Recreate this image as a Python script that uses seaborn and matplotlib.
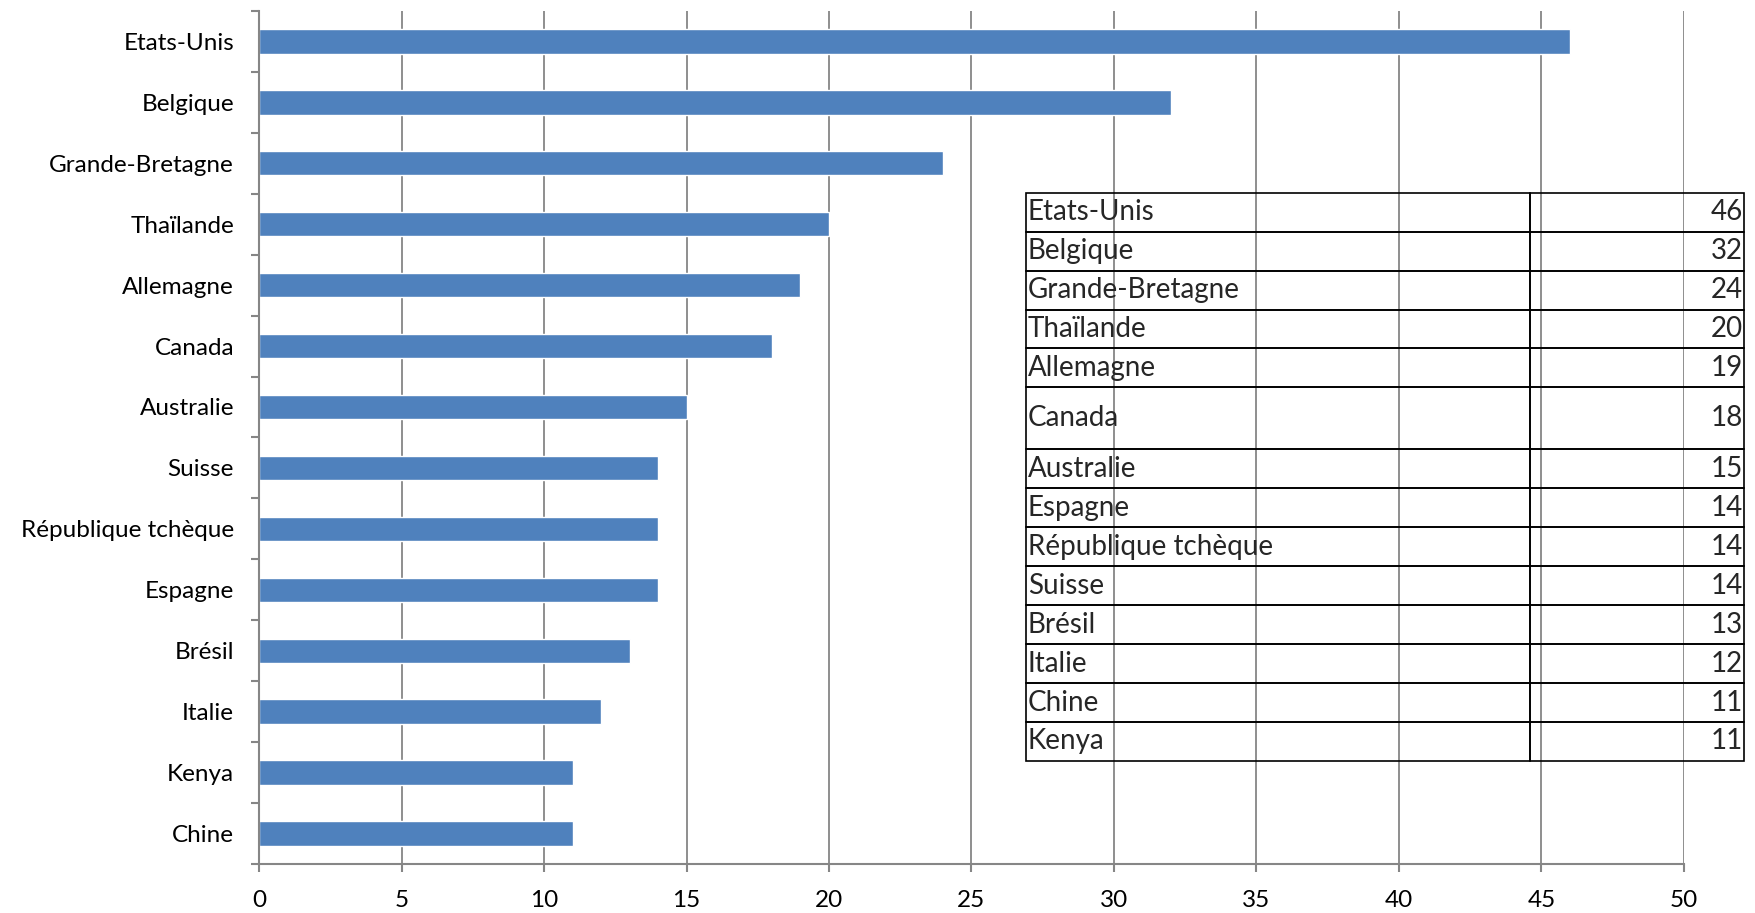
import numpy as np
import pandas as pd
import matplotlib
matplotlib.use("Agg")
import matplotlib.pyplot as plt
import seaborn as sns

# Chart order (top to bottom)
pays = ["Etats-Unis", "Belgique", "Grande-Bretagne", "Thaïlande", "Allemagne",
        "Canada", "Australie", "Suisse", "République tchèque", "Espagne",
        "Brésil", "Italie", "Kenya", "Chine"]
valeurs = [46, 32, 24, 20, 19, 18, 15, 14, 14, 14, 13, 12, 11, 11]

# Data table order
table_pays = ["Etats-Unis", "Belgique", "Grande-Bretagne", "Thaïlande", "Allemagne",
              "Canada", "Australie", "Espagne", "République tchèque", "Suisse",
              "Brésil", "Italie", "Chine", "Kenya"]
table_valeurs = [46, 32, 24, 20, 19, 18, 15, 14, 14, 14, 13, 12, 11, 11]

x_ticks = [0, 5, 10, 15, 20, 25, 30, 35, 40, 45, 50]

sns.set_theme(style="white")
plt.rcParams["font.family"] = ["Lato", "DejaVu Sans"]

BAR = "#4F81BD"
GRID = "#868686"

fig = plt.figure(figsize=(17.55, 9.13), dpi=100)
ax = fig.add_axes([0.1476, 0.0537, 0.8119, 0.9343])

df = pd.DataFrame({"pays": pays, "valeur": valeurs})
sns.barplot(data=df, x="valeur", y="pays", orient="h", color=BAR,
            saturation=1, width=0.4, ax=ax, order=pays)

ax.set_xlim(0, 50)
ax.set_ylim(len(pays) - 0.5, -0.5)
ax.set_xticks(x_ticks)
ax.set_xticklabels([str(t) for t in x_ticks])
ax.set_xlabel("")
ax.set_ylabel("")

ax.xaxis.grid(True, color=GRID, linewidth=1.3)
ax.yaxis.grid(False)
ax.set_axisbelow(True)

for side in ["top", "right"]:
    ax.spines[side].set_visible(False)
for side in ["left", "bottom"]:
    ax.spines[side].set_color(GRID)
    ax.spines[side].set_linewidth(1.5)

ax.set_yticks(np.arange(-0.5, len(pays), 1), minor=True)
ax.tick_params(axis="y", which="major", length=0, pad=18, labelsize=17.5, labelcolor="black")
ax.tick_params(axis="y", which="minor", left=True, length=6, width=1.5, color=GRID)
ax.tick_params(axis="x", which="major", bottom=True, length=6, width=1.5, color=GRID,
               pad=13, labelsize=17.5, labelcolor="black")

# Data table overlay
cell_text = [[p, str(v)] for p, v in zip(table_pays, table_valeurs)]
tbl = ax.table(cellText=cell_text, colWidths=[0.703, 0.297],
               bbox=[0.538, 0.1208, 0.504, 0.6662], zorder=5)
tbl.auto_set_font_size(False)
tbl.set_fontsize(20)
row_h = {i: 1.0 for i in range(len(table_pays))}
row_h[table_pays.index("Canada")] = 62 / 39
for (r, c), cell in tbl.get_celld().items():
    cell.set_facecolor("none")
    cell.set_edgecolor("black")
    cell.set_linewidth(1.2)
    cell.set_height(row_h[r] * 0.04)
    cell.PAD = 0.004
    cell.get_text().set_ha("left" if c == 0 else "right")
    cell._loc = "left" if c == 0 else "right"

fig.savefig("out.png", dpi=100)
